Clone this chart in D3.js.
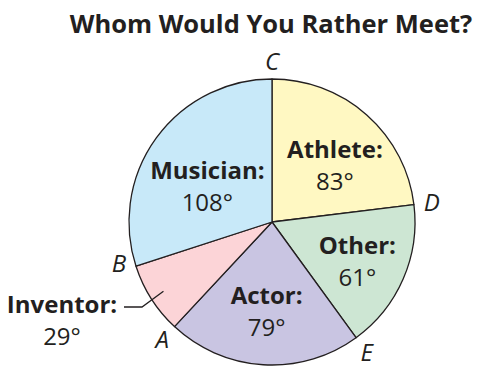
<!DOCTYPE html>
<html>
<head>
<meta charset="utf-8">
<script src="https://cdn.jsdelivr.net/npm/d3@7/dist/d3.min.js"></script>
<style>
  body { margin: 0; background: #fff; }
  svg text { font-family: "Open Sans", "Noto Sans", sans-serif; fill: #231f20; }
</style>
</head>
<body>
<div id="chart"></div>
<script>
// data: slices clockwise from the top
var categories = ["Athlete", "Other", "Actor", "Inventor", "Musician"];
var degrees = [83, 61, 79, 29, 108];
var colors = ["#fff8c2", "#cde6d3", "#c9c5e2", "#fcd4d7", "#c8e9f9"];
var pointLetters = ["C", "D", "E", "A", "B"];   // boundary letters, starting at the top

var width = 503, height = 382;
var cx = 272, cy = 222, radius = 143;

var svg = d3.select("#chart")
    .append("svg")
    .attr("width", width)
    .attr("height", height);

svg.append("text")
    .attr("x", 271)
    .attr("y", 33)
    .attr("text-anchor", "middle")
    .style("font-size", "25.5px")
    .style("font-weight", "bold")
    .text("Whom Would You Rather Meet?");

var g = svg.append("g")
    .attr("transform", "translate(" + cx + "," + cy + ")");

var slices = categories.map(function (c, i) {
    return { name: c, value: degrees[i], color: colors[i] };
});

var pie = d3.pie().sort(null).value(function (d) { return d.value; });
var arcs = pie(slices);
var arc = d3.arc().innerRadius(0).outerRadius(radius);

g.selectAll("path.slice")
    .data(arcs)
    .join("path")
    .attr("class", "slice")
    .attr("d", arc)
    .attr("fill", function (d) { return d.data.color; })
    .attr("stroke", "#231f20")
    .attr("stroke-width", 1.3)
    .attr("stroke-linejoin", "round");

// 角度 -> 坐标 (0 = top, clockwise)
function polar(a, r) {
    return [Math.sin(a) * r, -Math.cos(a) * r];
}

// boundary letters
var letterNudge = [[0, 0], [0, 0], [0, 0], [0, 0], [0, -8]];
g.selectAll("text.point")
    .data(arcs)
    .join("text")
    .attr("class", "point")
    .attr("x", function (d, i) { return polar(d.startAngle, radius + 18)[0] + letterNudge[i][0]; })
    .attr("y", function (d, i) { return polar(d.startAngle, radius + 18)[1] + letterNudge[i][1]; })
    .attr("dy", "0.36em")
    .attr("text-anchor", "middle")
    .style("font-size", "24px")
    .style("font-style", "italic")
    .text(function (d, i) { return pointLetters[i]; });

// slice labels: radius factor + nudge from mid angle
var labelPos = [
    { r: 0.58, dx: 8, dy: 4 },
    { r: 0.62, dx: 4, dy: 3 },
    { r: 0.62, dx: 0, dy: 0 },
    { r: null, x: -210, y: 97 },
    { r: 0.55, dx: -1, dy: 9 }
];

var labels = g.selectAll("g.label")
    .data(arcs)
    .join("g")
    .attr("class", "label")
    .attr("transform", function (d, i) {
        var p = labelPos[i];
        if (p.r === null) return "translate(" + p.x + "," + p.y + ")";
        var mid = (d.startAngle + d.endAngle) / 2;
        var xy = polar(mid, radius * p.r);
        return "translate(" + (xy[0] + p.dx) + "," + (xy[1] + p.dy) + ")";
    });

labels.append("text")
    .attr("text-anchor", "middle")
    .attr("y", -6)
    .style("font-size", "24px")
    .style("font-weight", "bold")
    .text(function (d) { return d.data.name + ":"; });

labels.append("text")
    .attr("text-anchor", "middle")
    .attr("y", 26)
    .style("font-size", "24px")
    .text(function (d) { return d.data.value + "\u00B0"; });

// leader line for the small Inventor slice
var inv = arcs[3];
var tip = polar((inv.startAngle + inv.endAngle) / 2, radius * 0.9);
g.append("path")
    .attr("d", d3.line()([tip, [-130, 85], [-148, 85]]))
    .attr("fill", "none")
    .attr("stroke", "#231f20")
    .attr("stroke-width", 1.3);
</script>
</body>
</html>
